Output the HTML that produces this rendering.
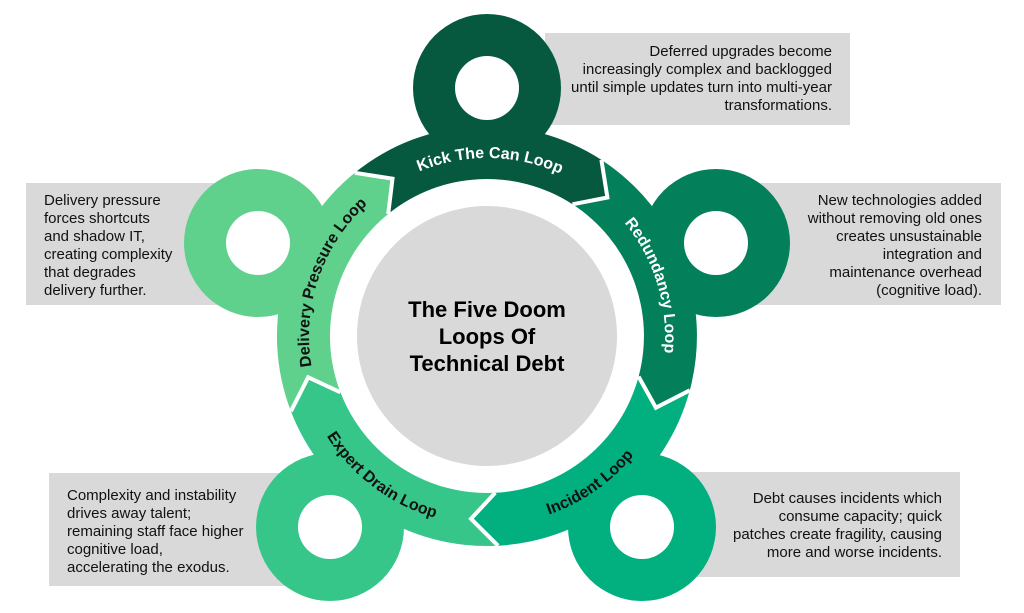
<!DOCTYPE html>
<html><head><meta charset="utf-8"><style>
html,body{margin:0;padding:0;background:#fff;}
svg{display:block;font-family:"Liberation Sans",Arial,sans-serif;}
</style></head><body>
<svg width="1024" height="613" viewBox="0 0 1024 613" xmlns="http://www.w3.org/2000/svg">
<!-- boxes -->
<rect x="545" y="33" width="305" height="92" fill="#d9d9d9"/>
<rect x="700" y="183" width="301" height="122" fill="#d9d9d9"/>
<rect x="640" y="472" width="320" height="105" fill="#d9d9d9"/>
<rect x="26" y="183" width="240" height="122" fill="#d9d9d9"/>
<rect x="49" y="473" width="280" height="113" fill="#d9d9d9"/>

<g font-size="15" fill="#111">
<g text-anchor="end">
<text x="832" y="56">Deferred upgrades become</text>
<text x="832" y="74">increasingly complex and backlogged</text>
<text x="832" y="92">until simple updates turn into multi-year</text>
<text x="832" y="110">transformations.</text>
<text x="982" y="205">New technologies added</text>
<text x="982" y="223">without removing old ones</text>
<text x="982" y="241">creates unsustainable</text>
<text x="982" y="259">integration and</text>
<text x="982" y="277">maintenance overhead</text>
<text x="982" y="295">(cognitive load).</text>
<text x="942" y="503">Debt causes incidents which</text>
<text x="942" y="521">consume capacity; quick</text>
<text x="942" y="539">patches create fragility, causing</text>
<text x="942" y="557">more and worse incidents.</text>
</g>
<text x="44" y="205">Delivery pressure</text>
<text x="44" y="223">forces shortcuts</text>
<text x="44" y="241">and shadow IT,</text>
<text x="44" y="259">creating complexity</text>
<text x="44" y="277">that degrades</text>
<text x="44" y="295">delivery further.</text>
<text x="67" y="500">Complexity and instability</text>
<text x="67" y="518">drives away talent;</text>
<text x="67" y="536">remaining staff face higher</text>
<text x="67" y="554">cognitive load,</text>
<text x="67" y="572">accelerating the exodus.</text>
</g>

<!-- donuts -->
<circle cx="487" cy="88" r="74" fill="#06593f"/>
<circle cx="716" cy="243" r="74" fill="#03805a"/>
<circle cx="642" cy="527" r="74" fill="#02b07f"/>
<circle cx="330" cy="527" r="74" fill="#36c68a"/>
<circle cx="258" cy="243" r="74" fill="#5fd18c"/>
<g fill="#fff">
<circle cx="487" cy="88" r="32"/>
<circle cx="716" cy="243" r="32"/>
<circle cx="642" cy="527" r="32"/>
<circle cx="330" cy="527" r="32"/>
<circle cx="258" cy="243" r="32"/>
</g>

<!-- ring segments -->
<path fill="#06593f" d="M354.8,172.8 A210,210 0 0,1 601.4,159.9 L607.4,197.5 L572.5,204.3 A157,157 0 0,0 388.2,214.0 L392.5,178.7Z"/>
<path fill="#03805a" d="M601.4,159.9 A210,210 0 0,1 689.8,390.3 L655.9,407.7 L638.6,376.6 A157,157 0 0,0 572.5,204.3 L607.4,197.5Z"/>
<path fill="#02b07f" d="M689.8,390.3 A210,210 0 0,1 498.0,545.7 L471.0,518.8 L495.2,492.8 A157,157 0 0,0 638.6,376.6 L655.9,407.7Z"/>
<path fill="#36c68a" d="M498.0,545.7 A210,210 0 0,1 290.9,411.3 L308.2,377.3 L340.4,392.3 A157,157 0 0,0 495.2,492.8 L471.0,518.8Z"/>
<path fill="#5fd18c" d="M290.9,411.3 A210,210 0 0,1 354.8,172.8 L392.5,178.7 L388.2,214.0 A157,157 0 0,0 340.4,392.3 L308.2,377.3Z"/>
<g fill="none" stroke="#fff" stroke-width="4" stroke-linejoin="miter">
<polyline points="354.8,172.8 392.5,178.7 388.2,214.0"/>
<polyline points="601.4,159.9 607.4,197.5 572.5,204.3"/>
<polyline points="689.8,390.3 655.9,407.7 638.6,376.6"/>
<polyline points="498.0,545.7 471.0,518.8 495.2,492.8"/>
<polyline points="290.9,411.3 308.2,377.3 340.4,392.3"/>
</g>

<!-- center -->
<circle cx="487" cy="336" r="130" fill="#d9d9d9"/>
<g font-size="22" font-weight="bold" fill="#000" text-anchor="middle">
<text x="487" y="317">The Five Doom</text>
<text x="487" y="344">Loops Of</text>
<text x="487" y="371">Technical Debt</text>
</g>

<!-- labels -->
<defs>
<path id="pk" d="M384.9,190.2 A178,178 0 0,1 594.1,193.8"/>
<path id="pr" d="M594.1,193.8 A178,178 0 0,1 655.3,394.0"/>
<path id="pd" d="M316.8,388.0 A178,178 0 0,1 384.9,190.2"/>
<path id="pi" d="M483.7,525.0 A189,189 0 0,0 665.7,397.5"/>
<path id="pe" d="M306.3,391.3 A189,189 0 0,0 483.7,525.0"/>
</defs>
<g font-size="16" font-weight="bold" text-anchor="middle">
<text fill="#fff"><textPath href="#pk" startOffset="50%">Kick The Can Loop</textPath></text>
<text fill="#fff"><textPath href="#pr" startOffset="50%">Redundancy Loop</textPath></text>
<text fill="#111"><textPath href="#pd" startOffset="50%">Delivery Pressure Loop</textPath></text>
<text fill="#111"><textPath href="#pi" startOffset="50%">Incident Loop</textPath></text>
<text fill="#111"><textPath href="#pe" startOffset="50%">Expert Drain Loop</textPath></text>
</g>
</svg>
</body></html>
